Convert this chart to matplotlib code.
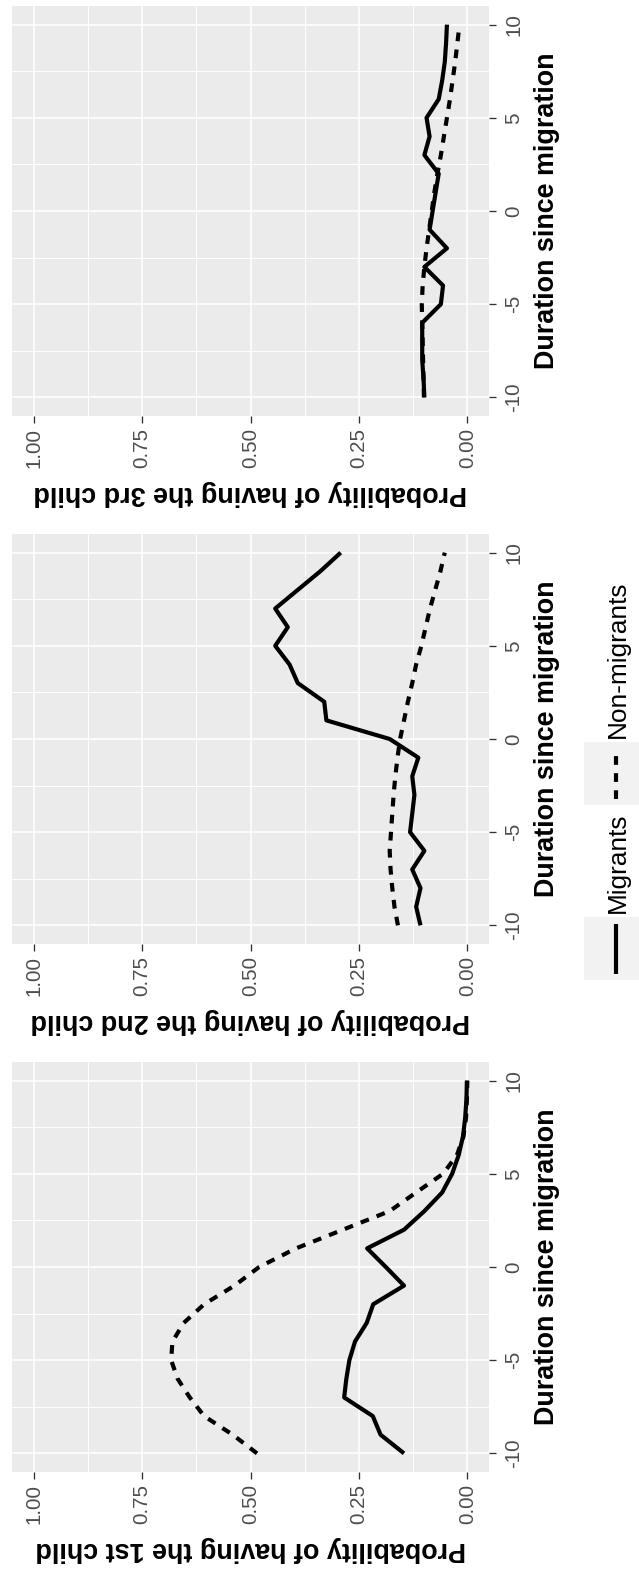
import matplotlib
matplotlib.use("Agg")
import matplotlib.pyplot as plt
from matplotlib.patches import Rectangle
from matplotlib.lines import Line2D
from matplotlib.ticker import FixedLocator

plt.rcParams["font.family"] = ["Liberation Sans", "DejaVu Sans"]

# ---- data -------------------------------------------------------------
duration = list(range(-10, 11))

first_migrants = [0.146, 0.200, 0.218, 0.284, 0.279, 0.272, 0.259, 0.232, 0.217, 0.146,
                  0.188, 0.231, 0.146, 0.099, 0.058, 0.035, 0.020, 0.010, 0.005, 0.002, 0.001]
first_nonmigrants = [0.485, 0.541, 0.607, 0.640, 0.668, 0.683, 0.680, 0.654, 0.607, 0.537,
                     0.480, 0.395, 0.287, 0.179, 0.118, 0.056, 0.024, 0.009, 0.003, 0.001, 0.000]

second_migrants = [0.108, 0.118, 0.108, 0.127, 0.099, 0.132, 0.127, 0.122, 0.127, 0.113,
                   0.179, 0.325, 0.330, 0.391, 0.410, 0.443, 0.414, 0.443, 0.391, 0.339, 0.292]
second_nonmigrants = [0.160, 0.168, 0.173, 0.177, 0.179, 0.176, 0.173, 0.170, 0.166, 0.161,
                      0.155, 0.146, 0.137, 0.127, 0.118, 0.106, 0.096, 0.086, 0.074, 0.062, 0.052]

third_migrants = [0.099, 0.101, 0.104, 0.104, 0.104, 0.061, 0.056, 0.099, 0.047, 0.087,
                  0.080, 0.073, 0.066, 0.099, 0.087, 0.094, 0.066, 0.058, 0.052, 0.049, 0.047]
third_nonmigrants = [0.100, 0.101, 0.102, 0.103, 0.104, 0.105, 0.103, 0.099, 0.094, 0.088,
                     0.082, 0.076, 0.069, 0.061, 0.054, 0.047, 0.040, 0.034, 0.028, 0.023, 0.018]

panel_titles = ["Probability of having the 3rd child",
                "Probability of having the 2nd child",
                "Probability of having the 1st child"]
panel_series = [(third_migrants, third_nonmigrants),
                (second_migrants, second_nonmigrants),
                (first_migrants, first_nonmigrants)]

prob_ticks = [0.0, 0.25, 0.5, 0.75, 1.0]
prob_labels = ["0.00", "0.25", "0.50", "0.75", "1.00"]
prob_minor = [0.125, 0.375, 0.625, 0.875]
dur_ticks = [-10, -5, 0, 5, 10]
dur_labels = ["-10", "-5", "0", "5", "10"]
dur_minor = [-7.5, -2.5, 2.5, 7.5]
axis_title = "Duration since migration"
series_names = ["Migrants", "Non-migrants"]

# ---- layout (pixel based, figure drawn sideways) ------------------------
W, H = 639, 1569
DPI = 100
fig = plt.figure(figsize=(W / DPI, H / DPI), dpi=DPI, facecolor="white")


def fx(px):
    return px / W


def fy(py):
    return 1 - py / H


PANEL_LEFT, PANEL_W, PANEL_H = 12, 477, 410
panel_tops = [6, 534, 1062]

LW = 3.0
DASH = (0, (2.1, 2.0))
TICK_PT = 14.75
TITLE_PT = 19.4
LEGEND_PT = 18.9

for top, title, (mig, non) in zip(panel_tops, panel_titles, panel_series):
    ax = fig.add_axes([fx(PANEL_LEFT), fy(top + PANEL_H), PANEL_W / W, PANEL_H / H])
    ax.set_facecolor("#EBEBEB")
    ax.plot(mig, duration, color="black", lw=LW, solid_joinstyle="round",
            solid_capstyle="butt")
    ax.plot(non, duration, color="black", lw=LW, linestyle=DASH,
            dash_capstyle="butt", dash_joinstyle="round")
    ax.set_xlim(1.05, -0.05)
    ax.set_ylim(-11, 11)

    ax.xaxis.set_major_locator(FixedLocator(prob_ticks))
    ax.xaxis.set_minor_locator(FixedLocator(prob_minor))
    ax.yaxis.set_major_locator(FixedLocator(dur_ticks))
    ax.yaxis.set_minor_locator(FixedLocator(dur_minor))
    ax.grid(which="major", color="white", lw=1.15)
    ax.grid(which="minor", color="white", lw=0.65)
    ax.set_axisbelow(True)
    for s in ax.spines.values():
        s.set_visible(False)

    ax.yaxis.tick_right()
    ax.tick_params(which="major", length=4.7, width=0.95, color="#333333",
                   labelcolor="#4D4D4D", labelsize=TICK_PT)
    ax.tick_params(which="minor", length=0)
    ax.tick_params(axis="x", pad=3.9)
    ax.tick_params(axis="y", pad=6.5)
    ax.set_xticklabels(prob_labels, rotation=90, ha="center", va="top",
                       rotation_mode="default")
    ax.set_yticklabels(dur_labels, rotation=90, ha="left", va="center",
                       rotation_mode="default")

    # axis titles
    fig.text(fx(PANEL_LEFT + PANEL_W / 2), fy(top + PANEL_H + 76.5), title,
             rotation=180, ha="center", va="center", fontsize=TITLE_PT,
             fontweight="bold", color="black")
    fig.text(fx(546.5), fy(top + PANEL_H / 2), axis_title,
             rotation=90, ha="center", va="center", fontsize=TITLE_PT,
             fontweight="bold", color="black")

# ---- legend -----------------------------------------------------------
key_boxes = [(917, 980), (742, 805)]
key_styles = ["-", DASH]
text_bottoms = [913, 738]
for (ktop, kbot), style, tb, name in zip(key_boxes, key_styles, text_bottoms, series_names):
    fig.add_artist(Rectangle((fx(584), fy(kbot)), 64 / W, (kbot - ktop) / H,
                             transform=fig.transFigure, facecolor="#F2F2F2",
                             edgecolor="none"))
    fig.add_artist(Line2D([fx(616), fx(616)], [fy(kbot - 6), fy(ktop + 7)],
                          transform=fig.transFigure, color="black", lw=LW,
                          linestyle=style, dash_capstyle="butt",
                          solid_capstyle="butt"))
    fig.text(fx(618), fy(tb), name, rotation=90, ha="center", va="bottom",
             fontsize=LEGEND_PT, color="black")

fig.savefig("out.png", dpi=DPI, facecolor="white")
